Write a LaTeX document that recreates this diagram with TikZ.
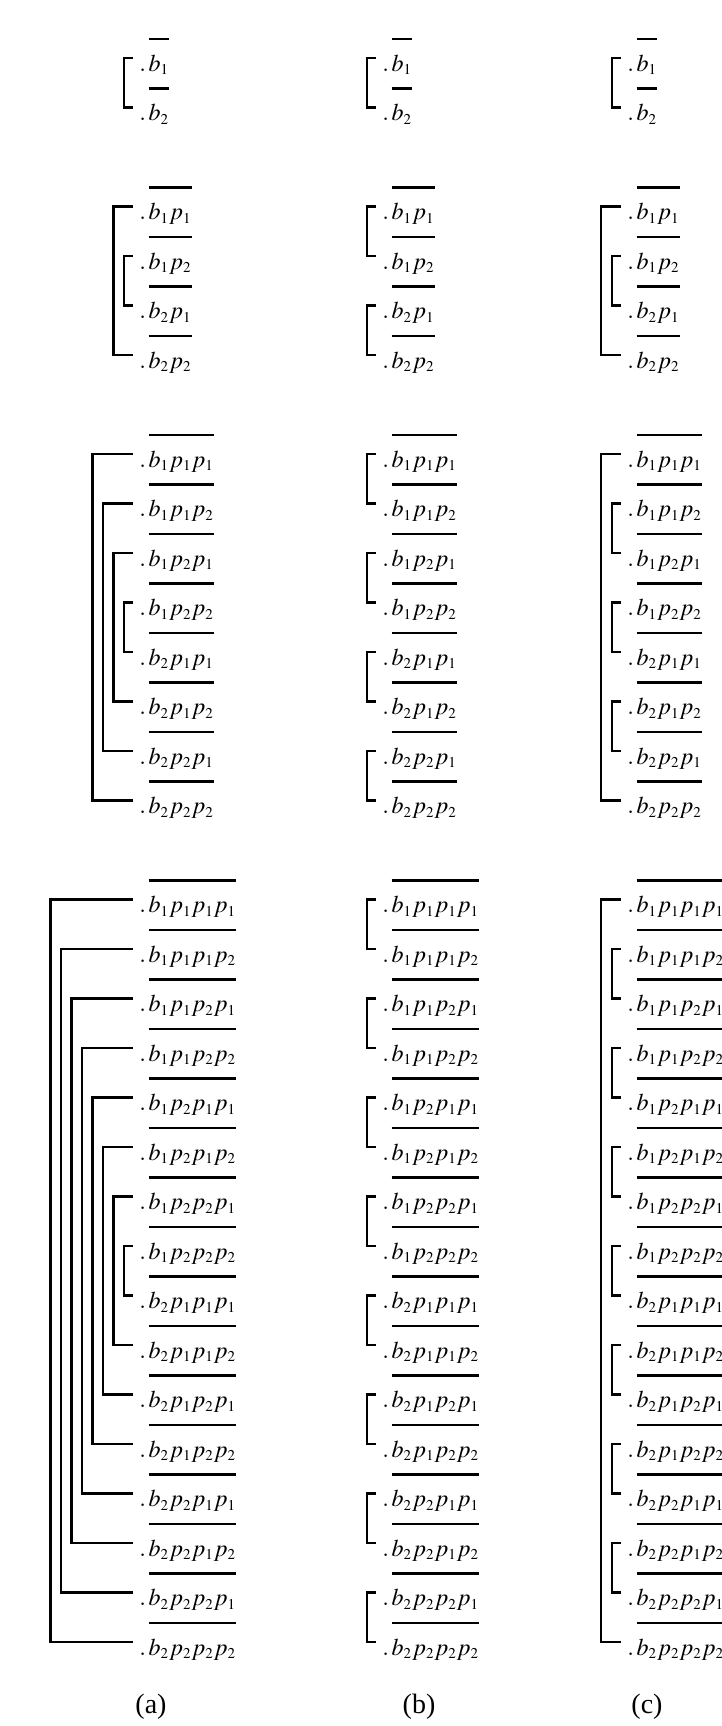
\documentclass[tikz,border=0pt]{standalone}
\usepackage{mathptmx}
\usepackage[no-math]{fontspec}
\setmainfont{Liberation Serif}
\usetikzlibrary{calc}
\DeclareMathSizes{12}{12}{7.5}{6}
% thick bar set well above the word
\newcommand{\obar}[1]{\vbox{\hrule height 1.3pt\kern 7pt\hbox{$#1$}}}
% digits -> b_i p_j p_k ...
\def\mkterm#1#2\relax{b_{#1}\mkp#2\relax}
\def\mkp#1{\ifx#1\relax\else p_{#1}\expandafter\mkp\fi}
\tikzset{
  every picture/.style={font=\fontsize{12}{14}\selectfont},
  term/.style={anchor=base west,inner sep=0pt},
  bracket/.style={draw=black,line width=1.4pt},
  caption/.style={inner sep=0pt,font=\fontsize{14}{16}\selectfont},
}

\begin{document}
\begin{tikzpicture}[x=0.5pt,y=-0.5pt]
  \path[use as bounding box] (0,0) rectangle (722,1726);
  % one row grid for the four groups, same words in all three columns
  \foreach \r/\w in {0/1,1/2,
      3/11,4/12,5/21,6/22,
      8/111,9/112,10/121,11/122,12/211,13/212,14/221,15/222,
      17/1111,18/1112,19/1121,20/1122,21/1211,22/1212,23/1221,24/1222,
      25/2111,26/2112,27/2121,28/2122,29/2211,30/2212,31/2221,32/2222}{
    \foreach \c/\x in {a/139,b/382,c/627}{
      \node[term] (\c\r) at (\x,{58+49.5*\r+13})
        {$.\mkern2mu\obar{\expandafter\mkterm\w\relax}$};
      \coordinate (\c\r e) at ($(\c\r.base west)+(-6,-13)$);
    }
  }
  % (a) nested brackets
  \foreach \s/\n in {0/2,3/4,8/8,17/16}{
    \pgfmathtruncatemacro\hh{\n/2-1}
    \foreach \j in {0,...,\hh}{
      \pgfmathtruncatemacro\ra{\s+\j}
      \pgfmathtruncatemacro\rb{\s+\n-1-\j}
      \pgfmathsetmacro\dep{9+(\hh-\j)*10.5}
      \draw[bracket] (a\ra e) -- ++(-\dep,0) |- (a\rb e);
    }
  }
  % (b) neighbouring pairs
  \foreach \ra in {0,3,5,8,10,12,14,17,19,21,23,25,27,29,31}{
    \pgfmathtruncatemacro\rb{\ra+1}
    \draw[bracket] (b\ra e) -- ++(-9,0) |- (b\rb e);
  }
  % (c) first/last, then inner pairs
  \foreach \ra/\rb in {3/6,8/15,17/32}{
    \draw[bracket] (c\ra e) -- ++(-20,0) |- (c\rb e);
  }
  \foreach \ra in {0,4,9,11,13,18,20,22,24,26,28,30}{
    \pgfmathtruncatemacro\rb{\ra+1}
    \draw[bracket] (c\ra e) -- ++(-9,0) |- (c\rb e);
  }
  \node[caption] (capa) at (151,1707) {(a)};
  \node[caption] (capb) at (419,1707) {(b)};
  \node[caption] (capc) at (647,1707) {(c)};
\end{tikzpicture}
\end{document}
